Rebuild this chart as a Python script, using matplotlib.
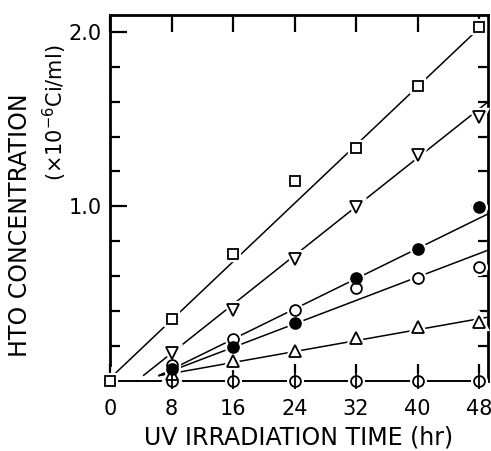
import matplotlib
matplotlib.use("Agg")
import matplotlib.pyplot as plt
import numpy as np

# ---- data ----
hours = [8, 16, 24, 32, 40, 48]
sq_hours = [0, 8, 16, 24, 32, 40, 48]
squares = [0.0, 0.353, 0.727, 1.147, 1.333, 1.69, 2.03]
tri_down = [0.159, 0.407, 0.697, 0.995, 1.294, 1.514]
filled_circ = [0.07, 0.196, 0.33, 0.592, 0.756, 0.998]
open_circ = [0.09, 0.239, 0.407, 0.531, 0.588, 0.651]
tri_up = [0.04, 0.116, 0.174, 0.245, 0.308, 0.34]
control = [0, 0, 0, 0, 0, 0]

# regression lines drawn in the figure: start/end points
fit_x0 = [0.6, 4.3, 6.3, 6.3, 6.3]
fit_y0 = [0.04, 0.03, 0.03, 0.03, 0.03]
fit_x1 = [48.0, 49.2, 49.2, 49.2, 49.2]
fit_y1 = [2.02, 1.60, 0.958, 0.75, 0.366]

xticks = [0, 8, 16, 24, 32, 40, 48]
yticks_major = [1.0, 2.0]
yticks_minor = [0.2, 0.4, 0.6, 0.8, 1.2, 1.4, 1.6, 1.8]

W, H = 491, 451
fig = plt.figure(figsize=(W / 100, H / 100), dpi=100)
ax = fig.add_axes([110 / W, 1 - 381 / H, (488 - 110) / W, (381 - 15) / H])
ax.set_xlim(0, 49.15)
ax.set_ylim(0, 2.096)

# fit lines
for x0, y0, x1, y1 in zip(fit_x0, fit_y0, fit_x1, fit_y1):
    ax.plot([x0, x1], [y0, y1], color="black", lw=1.1, zorder=2, solid_capstyle="butt")

def mk(x, y, marker, ms, face):
    # white halo to make gaps between lines and markers
    ax.plot(x, y, linestyle="none", marker=marker, ms=ms, mfc="white", mec="white",
            mew=4.5, zorder=3, clip_on=False)
    ax.plot(x, y, linestyle="none", marker=marker, ms=ms, mfc=face, mec="black",
            mew=1.3, zorder=5, clip_on=False)

mk(hours, control, "o", 7.8, "white")
ax.plot(hours, control, linestyle="none", marker="|", ms=11, mec="black", mew=1.3,
        zorder=6, clip_on=False)
mk(hours, tri_up, "^", 8.5, "white")
mk(hours, open_circ, "o", 7.8, "white")
mk(hours, filled_circ, "o", 7.8, "black")
mk(hours, tri_down, "v", 8.5, "white")
mk(sq_hours, squares, "s", 7.8, "white")

# spines
for s in ["left", "right", "top"]:
    ax.spines[s].set_linewidth(2.0)
ax.spines["bottom"].set_linewidth(1.4)
ax.spines["bottom"].set_bounds(0.9, 49.15)
ax.spines["left"].set_bounds(0.09, 2.096)

# ticks
ax.set_xticks(xticks)
ax.set_xticklabels([str(v) for v in xticks])
ax.tick_params(axis="x", which="major", direction="in", length=12.5, width=1.6,
               top=True, bottom=True, pad=13, labelsize=15)
ax.set_yticks(yticks_major)
ax.set_yticklabels(["1.0", "2.0"])
ax.set_yticks(yticks_minor, minor=True)
ax.tick_params(axis="y", which="major", direction="in", length=12.5, width=1.6,
               left=True, right=True, pad=6, labelsize=15)
ax.tick_params(axis="y", which="minor", direction="in", length=7, width=1.6,
               left=True, right=True)

for lbl in ax.get_xticklabels() + ax.get_yticklabels():
    lbl.set_family("DejaVu Sans")

fig.text(299 / W, 1 - 437 / H, "UV IRRADIATION TIME (hr)", ha="center", va="center",
         fontsize=17)
fig.text(20 / W, 1 - 225 / H, "HTO CONCENTRATION", ha="center", va="center",
         rotation=90, fontsize=17)
fig.text(55 / W, 1 - 113 / H, r"($\times$10$^{-6}$Ci/ml)", ha="center", va="center",
         rotation=90, fontsize=15)

fig.savefig("out.png", dpi=100)
